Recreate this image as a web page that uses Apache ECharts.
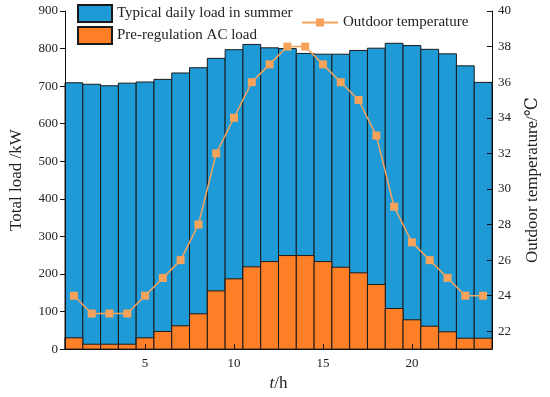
<!DOCTYPE html>
<html><head><meta charset="utf-8">
<script src="https://cdn.jsdelivr.net/npm/echarts@6/dist/echarts.min.js"></script>
<style>html,body{margin:0;padding:0;background:#fff}#c{width:550px;height:397px}</style>
</head><body><div id="c"></div>
<script>
const hours = [1,2,3,4,5,6,7,8,9,10,11,12,13,14,15,16,17,18,19,20,21,22,23,24];
const totalLoad = [709,705,701,708,711,718,735,749,774,797,811,802,800,787,785,785,795,801,814,808,798,786,754,710];
const acLoad = [30,13,13,13,30,47,62,94,155,187,219,233,249,249,233,218,203,172,108,78,61,46,29,29];
const temperature = [24,23,23,23,24,25,26,28,32,34,36,37,38,38,37,36,35,33,29,27,26,25,24,24];
const xTicks = [5,10,15,20];
const rightTicks = [22,24,26,28,30,32,34,36,38,40];

const FONT = '"Liberation Serif", "DejaVu Serif", serif';
const BLUE = '#1E9BD7', ORANGE = '#FF7F27', LINE = '#F7A35C';

function barRender(color) {
  return function (params, api) {
    const x = api.value(0), y = api.value(1);
    const p0 = api.coord([x - 0.5, y]);
    const p1 = api.coord([x + 0.5, 0]);
    return {
      type: 'rect',
      shape: { x: p0[0], y: p0[1], width: p1[0] - p0[0], height: p1[1] - p0[1] },
      style: { fill: color, stroke: '#1a1a1a', lineWidth: 1 }
    };
  };
}

const chart = echarts.init(document.getElementById('c'));
chart.setOption({
  animation: false,
  backgroundColor: '#fff',
  textStyle: { fontFamily: FONT },
  grid: { left: 62.5, right: 58, top: 11, bottom: 43 },
  legend: [
    {
      data: ['Typical daily load in summer', 'Pre-regulation AC load'],
      orient: 'vertical', left: 72, top: -1,
      itemWidth: 34, itemHeight: 17, itemGap: 3,
      icon: 'rect',
      textStyle: { fontFamily: FONT, fontSize: 15, color: '#222' }
    },
    {
      data: ['Outdoor temperature'],
      left: 296, top: 10,
      itemWidth: 36, itemHeight: 10,
      textStyle: { fontFamily: FONT, fontSize: 15, color: '#222' }
    }
  ],
  xAxis: {
    type: 'value', min: 0.5, max: 24.5,
    name: '{i|t}/h', nameLocation: 'middle', nameGap: 24,
    nameTextStyle: { fontFamily: FONT, fontSize: 17, color: '#222',
      rich: { i: { fontFamily: FONT, fontStyle: 'italic', fontSize: 17, color: '#222' } } },
    z: 10,
    axisLine: { show: true, lineStyle: { color: '#111', width: 1 } },
    axisTick: { show: true, inside: true, length: 5, customValues: xTicks, lineStyle: { color: '#111' } },
    axisLabel: { customValues: xTicks, fontFamily: FONT, fontSize: 13, color: '#222', margin: 8 },
    splitLine: { show: false }
  },
  yAxis: [
    {
      type: 'value', min: 0, max: 900, interval: 100,
      name: 'Total load /kW', nameLocation: 'middle', nameGap: 40,
      nameTextStyle: { fontFamily: FONT, fontSize: 17, color: '#222' },
      z: 10,
      axisLine: { show: true, lineStyle: { color: '#111', width: 1 } },
      axisTick: { show: true, length: 5, lineStyle: { color: '#111' } },
      axisLabel: { fontFamily: FONT, fontSize: 13, color: '#222', margin: 7 },
      splitLine: { show: false }
    },
    {
      type: 'value', min: 21, max: 40, position: 'right',
      name: 'Outdoor temperature/℃', nameLocation: 'middle', nameGap: 32,
      nameRotate: 90,
      nameTextStyle: { fontFamily: FONT, fontSize: 17, color: '#222' },
      z: 10,
      axisLine: { show: true, lineStyle: { color: '#111', width: 1 } },
      axisTick: { show: true, inside: true, length: 5, customValues: rightTicks, lineStyle: { color: '#111' } },
      axisLabel: { customValues: rightTicks, fontFamily: FONT, fontSize: 13, color: '#222', margin: 6 },
      splitLine: { show: false }
    }
  ],
  series: [
    {
      name: 'Typical daily load in summer', type: 'custom',
      renderItem: barRender(BLUE),
      itemStyle: { color: BLUE, borderColor: '#1a1a1a', borderWidth: 1 },
      encode: { x: 0, y: 1 },
      data: hours.map((h, i) => [h, totalLoad[i]]),
      z: 1
    },
    {
      name: 'Pre-regulation AC load', type: 'custom',
      renderItem: barRender(ORANGE),
      itemStyle: { color: ORANGE, borderColor: '#1a1a1a', borderWidth: 1 },
      encode: { x: 0, y: 1 },
      data: hours.map((h, i) => [h, acLoad[i]]),
      z: 2
    },
    {
      name: 'Outdoor temperature', type: 'line', yAxisIndex: 1,
      symbol: 'rect', symbolSize: 8,
      itemStyle: { color: LINE },
      lineStyle: { color: LINE, width: 1.5 },
      data: hours.map((h, i) => [h, temperature[i]]),
      z: 5
    }
  ]
});
</script></body></html>
